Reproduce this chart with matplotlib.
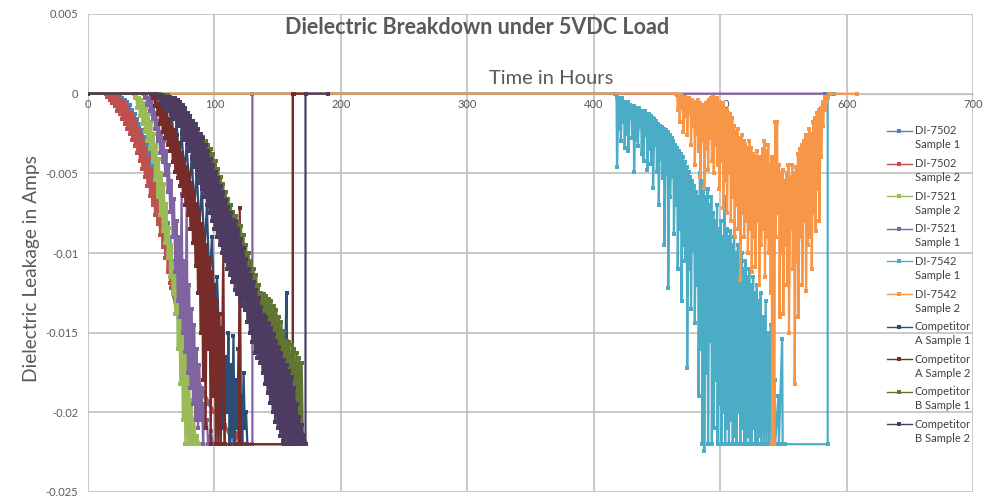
import numpy as np
import matplotlib
matplotlib.use("Agg")
import matplotlib.pyplot as plt
from matplotlib.lines import Line2D

plt.rcParams['font.family'] = ['Lato', 'DejaVu Sans']

# === data: hours and leakage in mA ===
di7502_s1_h = [0, 18, 19, 20, 21, 22, 23, 24, 25, 26, 27, 28, 29, 30, 31, 32, 33, 34, 35, 36, 37, 38, 39, 40, 41, 42, 43, 44,
               45, 46, 47, 48, 49, 50, 51, 52, 53, 54, 55, 56, 57, 58, 59, 60, 61, 62, 63, 64, 65, 66, 67, 68,
               72, 76, 80, 88, 95, 102, 108, 112, 115, 124]
di7502_s1_v = [0, 0, -0.1, -0.3, -0.1, -0.5, -0.1, -0.7, -0.2, -1.0, -0.3, -1.3, -0.4, -1.6, -0.5, -1.9, -0.7, -2.2, -1.0,
               -2.6, -1.3, -3.0, -1.6, -3.4, -1.9, -3.8, -2.3, -4.3, -2.7, -4.8, -3.1, -5.3, -3.6, -5.9, -4.1, -6.5, -4.8,
               -7.1, -5.5, -7.8, -6.1, -8.4, -6.8, -9.1, -7.4, -9.9, -8.1, -10.8, -9.0, -11.7, -10.5, -12.0,
               -13.8, -15.5, -17.0, -18.5, -19.5, -20.2, -20.8, -21.2, -22.0, -22.0]

di7502_s2_h = [0, 14, 15, 16, 17, 18, 19, 20, 21, 22, 23, 24, 25, 26, 27, 28, 29, 30, 31, 32, 33, 34, 35, 36, 37, 38, 39, 40,
               41, 42, 43, 44, 45, 46, 47, 48, 49, 50, 51, 52, 53, 54, 55, 56, 57, 58, 59, 60, 61, 62, 63, 64, 65, 66,
               72, 80, 90, 100, 108, 112, 114, 116, 118, 120, 123]
di7502_s2_v = [0, 0, -0.2, 0, -0.4, -0.1, -0.6, -0.1, -0.8, -0.2, -1.1, -0.3, -1.3, -0.4, -1.6, -0.5, -1.9, -0.6, -2.2, -0.9,
               -2.5, -1.2, -2.9, -1.5, -3.3, -1.8, -3.7, -2.2, -4.2, -2.6, -4.7, -3.0, -5.2, -3.5, -5.8, -4.0, -6.4, -4.8,
               -7.0, -5.5, -7.6, -6.1, -8.2, -6.8, -8.9, -7.3, -9.6, -7.9, -10.3, -8.6, -11.2, -9.8, -11.9, -12.2,
               -14.5, -16.5, -18.5, -20.0, -20.8, -21.5, -20.8, -22.0, -21.3, -22.0, -22.0]

di7521_s2_h = [0, 36, 37, 38, 39, 40, 41, 42, 43, 44, 45, 46, 47, 48, 49, 50, 51, 52, 53, 54, 55, 56, 57, 58, 59, 60, 61, 62, 63,
               64, 65, 66, 67, 68, 69, 70, 71, 72, 73, 74, 75, 76, 77, 78, 79, 80, 81, 82, 83, 84, 85, 86, 88, 96]
di7521_s2_v = [0, 0, -0.3, -0.1, -0.9, -0.3, -1.4, -0.4, -1.9, -0.6, -2.4, -0.9, -3.0, -1.3, -3.5, -1.8, -4.3, -2.5, -5.4, -3.2,
               -6.5, -4.1, -7.6, -5.0, -8.6, -5.7, -9.4, -6.9, -10.3, -8.4, -11.5, -9.5, -12.6, -10.6, -13.8, -11.3, -16.0,
               -12.9, -18.2, -14.0, -20.5, -15.1, -22.0, -16.2, -22.0, -17.6, -22.0, -19.2, -22.0, -20.4, -22.0, -21.5, -22.0, -22.0]

di7521_s1_h = [0, 44, 45, 46, 47, 48, 49, 50, 51, 52, 53, 54, 55, 56, 57, 58, 59, 60, 61, 62, 63, 64, 65, 66, 67, 68, 69, 70, 71,
               72, 73, 74, 75, 76, 77, 78, 79, 80, 81, 82, 83, 84, 85, 86, 87, 88, 89, 90, 91, 92, 93, 94, 95, 97, 99, 130, 130, 583]
di7521_s1_v = [0, 0, -0.3, -0.1, -0.7, -0.3, -1.1, -0.5, -1.6, -0.8, -2.2, -1.2, -3.0, -1.7, -3.7, -2.4, -4.3, -3.0, -5.1, -3.6,
               -6.2, -4.5, -7.4, -5.5, -9.0, -6.6, -11.2, -8.0, -13.0, -9.0, -14.0, -6.3, -15.0, -10.5, -16.2, -7.0, -17.5, -12.0,
               -18.5, -13.5, -19.5, -14.5, -20.5, -16.0, -21.0, -17.0, -20.5, -18.5, -22.0, -19.5, -21.0, -20.5, -22.0, -21.2,
               -22.0, -22.0, 0, 0]

di7542_s1_h = [0, 417,
               418, 418.4, 419.5, 419.9, 421, 421.4, 422.5, 422.9, 424, 424.4, 425.5, 425.9, 427, 427.4, 428.5, 428.9,
               430, 430.4, 431.5, 431.9, 433, 433.4, 434.5, 434.9, 436, 436.4, 437.5, 437.9, 439, 439.4, 440.5, 440.9,
               442, 442.4, 443.5, 443.9, 445, 445.4, 446.5, 446.9, 448, 448.4, 449.5, 449.9, 451, 451.4, 452.5, 452.9,
               454, 454.4, 455.5, 455.9, 457, 457.4, 458.5, 458.9, 460, 460.4, 461.5, 461.9, 463, 463.4, 464.5, 464.9,
               466, 466.4, 467.5, 467.9, 469, 469.4, 470.5, 470.9, 472, 472.4, 473.5, 473.9, 475, 475.4, 476.5, 476.9,
               478, 478.4, 479.5, 479.9, 481, 481.4, 482.5, 482.9, 484, 484.4, 485.5, 485.9, 487, 487.4, 488.5, 488.9,
               490, 490.4, 491.5, 491.9, 493, 493.4, 494.5, 494.9, 496, 496.4, 497.5, 497.9, 499, 499.4, 500.5, 500.9,
               502, 502.4, 503.5, 503.9, 505, 505.4, 506.5, 506.9, 508, 508.4, 509.5, 509.9, 511, 511.4, 512.5, 512.9,
               514, 514.4, 515.5, 515.9, 517, 517.4, 518.5, 518.9, 520, 520.4, 521.5, 521.9, 523, 523.4, 524.5, 524.9,
               526, 526.4, 527.5, 527.9, 529, 529.4, 530.5, 530.9, 532, 532.4, 534, 534.4, 536, 536.4, 538, 538.4,
               540, 540.4, 543, 543.4, 546, 546.4, 549, 549.4, 551, 585, 585, 590]
di7542_s1_v = [0, 0,
               -0.2, -4.6, -0.3, -2.2, -0.4, -3.0, -0.3, -1.8, -0.5, -3.4, -0.6, -2.5, -0.5, -3.6, -0.7, -1.5,
               -0.8, -2.8, -0.8, -4.9, -0.9, -2.9, -1.0, -3.3, -0.9, -2.1, -1.1, -3.8, -1.2, -4.2, -1.1, -2.6,
               -1.3, -4.8, -1.3, -3.5, -1.4, -4.4, -1.5, -5.9, -1.6, -3.2, -1.7, -4.9, -1.9, -7.0, -2.0, -4.1,
               -2.1, -5.3, -2.2, -9.5, -2.3, -5.0, -2.4, -12.2, -2.6, -6.5, -2.8, -5.2, -3.0, -8.8, -3.2, -7.0,
               -3.4, -11.0, -3.6, -8.5, -3.8, -13.0, -4.0, -9.5, -4.3, -10.5, -4.6, -17.2, -4.9, -11.0, -5.2, -13.5,
               -5.5, -9.8, -5.8, -14.4, -6.2, -12.0, -6.5, -19.0, -5.0, -16.0, -5.5, -22.0, -6.0, -22.4, -6.5, -17.5,
               -6.0, -22.0, -7.0, -15.5, -6.5, -22.0, -7.5, -21.0, -8.0, -18.0, -7.0, -22.0, -8.5, -19.5, -8.0, -22.0,
               -9.0, -20.0, -6.5, -22.0, -8.5, -21.0, -9.0, -22.0, -8.6, -20.5, -9.5, -22.0, -9.0, -21.5, -10.0, -22.0,
               -9.5, -20.0, -10.5, -22.0, -10.0, -21.0, -11.0, -22.0, -10.5, -22.0, -11.5, -21.5, -11.0, -22.0, -12.0, -22.0,
               -11.5, -21.0, -12.5, -22.0, -12.0, -22.0, -13.0, -21.5, -12.5, -22.0, -14.0, -22.0, -13.0, -22.0, -15.0, -22.0,
               -14.5, -22.0, -18.0, -22.0, -19.0, -22.0, -15.4, -22.0, -22.0, -22.0, 0, 0]

di7542_s2_h = [0, 465,
               466, 466.4, 467.5, 467.9, 469, 469.4, 470.5, 470.9, 472, 472.4, 473.5, 473.9, 475, 475.4, 476.5, 476.9,
               478, 478.4, 479.5, 479.9, 481, 481.4, 482.5, 482.9, 484, 484.4, 485.5, 485.9, 487, 487.4, 488.5, 488.9,
               490, 490.4, 491.5, 491.9, 493, 493.4, 494.5, 494.9, 496, 496.4, 497.5, 497.9, 499, 499.4, 500.5, 500.9,
               502, 502.4, 503.5, 503.9, 505, 505.4, 506.5, 506.9, 508, 508.4, 509.5, 509.9, 511, 511.4, 512.5, 512.9,
               514, 514.4, 515.5, 515.9, 517, 517.4, 518.5, 518.9, 520, 520.4, 521.5, 521.9, 523, 523.4, 524.5, 524.9,
               526, 526.4, 527.5, 527.9, 529, 529.4, 530.5, 530.9, 532, 532.4, 533.5, 533.9, 535, 535.4, 536.5, 536.9,
               538, 538.4, 539.5, 539.9, 540.7, 541.1, 541.5, 541.9, 542.3, 542.7, 543.5, 543.9, 545, 545.4, 546.5, 546.9,
               548, 548.4, 549.5, 549.9, 551, 551.4, 552.5, 552.9, 554, 554.4, 555.5, 555.9, 557, 557.4, 558.5, 558.9,
               560, 560.4, 561.5, 561.9, 563, 563.4, 564.5, 564.9, 566, 566.4, 567.5, 567.9, 569, 569.4, 570.5, 570.9,
               572, 572.4, 573.5, 573.9, 575, 575.4, 576.5, 576.9, 578, 578.4, 579.5, 579.9, 581, 581.4, 582.5, 582.9,
               585, 587, 608]
di7542_s2_v = [0, 0,
               -0.1, -1.0, -0.2, -1.8, -0.1, -0.9, -0.3, -2.4, -0.2, -1.4, -0.4, -2.6, -0.3, -1.2, -0.5, -3.2,
               -0.4, -2.0, -0.6, -4.5, -0.5, -2.5, -0.4, -3.6, -0.6, -5.2, -0.7, -3.0, -0.8, -5.9, -0.6, -3.5,
               -0.5, -4.8, -0.4, -2.8, -0.3, -4.2, -0.2, -5.0, -0.3, -3.2, -0.3, -4.5, -0.5, -6.0, -0.8, -4.2,
               -0.6, -7.2, -1.0, -5.5, -1.0, -7.5, -1.2, -5.0, -1.3, -8.0, -1.5, -6.5, -2.0, -9.0, -2.4, -7.0,
               -2.2, -8.5, -2.8, -11.7, -2.6, -7.5, -3.0, -9.0, -3.2, -8.0, -3.4, -10.0, -3.0, -8.5, -3.4, -11.2,
               -3.8, -9.0, -4.0, -10.9, -3.6, -8.0, -4.0, -12.0, -4.2, -9.5, -3.5, -8.5, -3.0, -11.5, -3.6, -9.0,
               -3.2, -10.0, -4.5, -12.5, -4.0, -22.0, -4.5, -22.0, -4.2, -22.0, -1.8, -9.0, -1.75, -7.5, -4.5, -14.0,
               -5.0, -10.0, -4.8, -13.8, -5.5, -9.5, -5.0, -12.0, -4.5, -15.0, -5.2, -8.5, -4.5, -11.0, -5.0, -18.2,
               -4.6, -10.5, -3.8, -14.0, -3.5, -9.0, -3.2, -12.0, -3.0, -8.0, -2.6, -12.4, -2.8, -9.5, -2.2, -9.0,
               -2.5, -11.0, -1.8, -7.5, -1.5, -8.6, -1.2, -6.0, -1.0, -8.0, -0.9, -4.0, -0.5, -2.0, -0.2, -1.0,
               -0.3, 0, 0]

comp_a1_h = [0, 53, 54, 55, 56, 58, 60, 62, 64, 66, 68, 70, 72, 74, 76, 78, 80, 82, 84, 86, 88, 90, 92, 94, 96, 98, 100, 102,
             104, 105, 106, 107, 108, 109, 110, 111, 112, 113, 114, 115, 116, 117, 118, 119, 120, 121, 122, 123, 124, 125,
             126, 155, 156, 157, 158, 162, 162, 163]
comp_a1_v = [0, 0, -0.3, -0.1, -0.9, -0.3, -1.6, -0.7, -2.4, -1.1, -3.2, -1.8, -4.2, -2.5, -5.0, -3.2, -6.0, -4.0, -7.2, -4.8,
             -8.5, -5.8, -10.0, -7.0, -12.0, -9.0, -14.0, -11.5, -16.0, -14.7, -21.0, -15.0, -22.0, -16.5, -20.0, -15.0,
             -22.0, -17.0, -21.5, -15.2, -22.0, -18.0, -21.0, -16.0, -22.0, -19.0, -22.0, -17.5, -21.0, -20.0, -22.0, -22.0,
             -16.0, -12.5, -22.0, -22.0, 0, 0]

comp_a2_h = [0, 50, 51, 52, 53, 54, 55, 56, 57, 58, 59, 60, 61, 62, 63, 64, 65, 66, 67, 68, 69, 70, 71, 72, 73, 74, 75, 76, 77,
             78, 79, 80, 81, 82, 83, 84, 85, 86, 87, 88, 89, 90, 91, 92, 93, 94, 95, 96, 97, 98, 99, 100, 101, 102, 103, 104,
             105, 107, 108, 119, 120, 121, 162, 162, 172]
comp_a2_v = [0, 0, -0.3, -0.1, -0.8, -0.2, -1.3, -0.3, -1.9, -0.6, -2.4, -0.9, -2.8, -1.3, -3.2, -1.6, -3.6, -2.0, -4.3, -2.3,
             -4.9, -2.6, -5.3, -3.1, -5.8, -3.7, -6.4, -4.1, -7.0, -4.6, -7.6, -5.0, -8.5, -5.6, -9.4, -6.2, -10.8, -6.9,
             -12.5, -7.4, -15.0, -8.2, -18.0, -8.8, -21.0, -9.5, -16.0, -10.3, -22.0, -11.2, -19.0, -12.0, -22.0, -13.0,
             -22.0, -13.8, -22.0, -10.0, -22.0, -22.0, -7.2, -22.0, -22.0, 0, 0]

comp_b1_h = [0, 55, 56, 57, 58, 59, 60, 61, 62, 63, 64, 65, 66, 67, 68, 69, 70, 71, 72, 73, 74, 75, 76, 77, 78, 79, 80, 81,
             82, 83, 84, 85, 86, 87, 88, 89, 90, 91, 92, 93, 94, 95, 96, 97, 98, 99, 100, 101, 102, 103, 104, 105, 106,
             107, 108, 109, 110, 111, 112, 113, 114, 115, 116, 117, 118, 119, 120, 121, 122, 123, 124, 125, 126, 127,
             128, 129, 130, 131, 132, 133, 134, 135, 136, 137, 138, 139, 140, 141, 142, 143, 144, 145, 146, 147, 148,
             149, 150, 151, 152, 153, 154, 155, 156, 157, 158, 159, 160, 161, 162, 163, 164, 165, 166, 167, 168, 169,
             170, 171]
comp_b1_v = [0, 0, -0.4, 0, -0.5, -0.1, -0.6, -0.1, -0.8, -0.1, -0.9, -0.2, -1.1, -0.3, -1.3, -0.4, -1.5, -0.5, -1.7, -0.7,
             -2.0, -0.8, -2.3, -1.0, -2.6, -1.2, -2.9, -1.5, -3.2, -1.7, -3.5, -2.0, -3.8, -2.2, -4.1, -2.5, -4.4, -2.7,
             -4.7, -3.0, -5.0, -3.2, -5.3, -3.5, -5.7, -3.8, -6.1, -4.2, -6.6, -4.7, -7.2, -5.2, -7.7, -5.7, -8.2, -6.2,
             -8.6, -6.6, -9.1, -7.0, -9.5, -7.4, -9.9, -7.7, -10.3, -8.0, -10.8, -8.3, -11.3, -8.9, -11.8, -9.5, -12.3,
             -10.0, -12.8, -10.5, -13.3, -11.0, -13.8, -11.4, -14.3, -12.0, -14.8, -12.5, -15.3, -12.6, -15.8, -12.7,
             -16.3, -12.9, -16.9, -13.0, -17.5, -13.3, -18.1, -13.6, -18.7, -14.0, -19.3, -14.3, -19.9, -14.9, -20.5,
             -15.5, -21.1, -15.6, -21.7, -15.8, -22.0, -16.0, -22.0, -16.3, -22.0, -16.6, -22.0, -16.9, -22.0, -22.0]

comp_b2_h = [0, 54, 55, 56, 57, 58, 59, 60, 61, 62, 63, 64, 65, 66, 67, 68, 69, 70, 71, 72, 73, 74, 75, 76, 77, 78, 79, 80,
             81, 82, 83, 84, 85, 86, 87, 88, 89, 90, 91, 92, 93, 94, 95, 96, 97, 98, 99, 100, 101, 102, 103, 104, 105,
             106, 107, 108, 109, 110, 111, 112, 113, 114, 115, 116, 117, 118, 119, 120, 121, 122, 123, 124, 125, 126,
             127, 128, 129, 130, 131, 132, 133, 134, 135, 136, 137, 138, 139, 140, 141, 142, 143, 144, 145, 146, 147,
             148, 149, 150, 151, 152, 153, 154, 155, 156, 157, 158, 159, 160, 161, 162, 163, 164, 165, 166, 167, 168,
             169, 170, 171, 172, 172, 190]
comp_b2_v = [0, 0, -0.1, -0.3, -0.1, -0.6, -0.1, -0.8, -0.2, -0.9, -0.2, -1.1, -0.2, -1.3, -0.3, -1.6, -0.3, -1.8, -0.4,
             -2.0, -0.5, -2.4, -0.7, -2.9, -0.9, -3.2, -1.2, -3.6, -1.4, -4.1, -1.7, -4.6, -1.9, -5.1, -2.2, -5.6, -2.5,
             -6.0, -2.8, -6.5, -3.2, -7.0, -3.6, -7.5, -4.1, -8.0, -4.5, -8.5, -4.9, -9.0, -5.3, -9.5, -5.8, -10.0, -6.2,
             -10.5, -6.7, -11.0, -7.1, -11.4, -7.5, -11.8, -7.9, -12.3, -8.0, -12.6, -8.5, -13.0, -9.1, -13.3, -9.7,
             -13.6, -10.4, -14.3, -11.0, -15.0, -11.4, -15.6, -11.8, -16.3, -12.3, -16.6, -12.8, -16.9, -13.4, -17.5,
             -13.9, -18.2, -14.0, -18.8, -14.4, -19.4, -14.7, -20.0, -15.1, -20.6, -15.5, -21.0, -15.9, -21.5, -16.3,
             -21.8, -16.7, -22.0, -17.0, -22.0, -17.4, -22.0, -17.8, -22.0, -18.5, -22.0, -19.5, -22.0, -20.3, -22.0,
             -20.8, -22.0, -21.4, -22.0, 0, 0]

series = [
    ('DI-7502\nSample 1', di7502_s1_h, di7502_s1_v, '#4F81BD'),
    ('DI-7502\nSample 2', di7502_s2_h, di7502_s2_v, '#C0504D'),
    ('DI-7521\nSample 2', di7521_s2_h, di7521_s2_v, '#9BBB59'),
    ('DI-7521\nSample 1', di7521_s1_h, di7521_s1_v, '#8064A2'),
    ('DI-7542\nSample 1', di7542_s1_h, di7542_s1_v, '#4BACC6'),
    ('DI-7542\nSample 2', di7542_s2_h, di7542_s2_v, '#F79646'),
    ('Competitor\nA Sample 1', comp_a1_h, comp_a1_v, '#2C4D75'),
    ('Competitor\nA Sample 2', comp_a2_h, comp_a2_v, '#772C2A'),
    ('Competitor\nB Sample 1', comp_b1_h, comp_b1_v, '#5F7530'),
    ('Competitor\nB Sample 2', comp_b2_h, comp_b2_v, '#4D3B62'),
]

gris = '#595959'
fig = plt.figure(figsize=(9.97, 5.0), dpi=100)
ax = fig.add_axes([0.0883, 0.016, 0.8877, 0.956])

for nome, h, v, cor in series:
    ax.plot(h, np.array(v) / 1000.0, color=cor, lw=1.6, marker='s', markersize=2.6,
            markeredgewidth=0, label=nome, zorder=3)

ax.set_xlim(0, 700)
ax.set_ylim(-0.025, 0.005)
ax.set_xticks(range(0, 701, 100))
yt = [0.005, 0, -0.005, -0.01, -0.015, -0.02, -0.025]
ax.set_yticks(yt)
ax.set_yticklabels(['0.005', '0', '-0.005', '-0.01', '-0.015', '-0.02', '-0.025'])
ax.grid(True, color='#BFBFBF', lw=1.2)
ax.set_axisbelow(True)
for s in ['top', 'right', 'left']:
    ax.spines[s].set_visible(False)
ax.spines['bottom'].set_position(('data', 0))
ax.spines['bottom'].set_color('#BFBFBF')
ax.spines['bottom'].set_zorder(1)
ax.tick_params(length=0, labelsize=8, labelcolor=gris)
ax.tick_params(axis='x', pad=4)
ax.tick_params(axis='y', pad=7)

fig.text(0.478, 0.944, 'Dielectric Breakdown under 5VDC Load', ha='center', va='center',
         fontsize=15.5, fontweight='bold', color=gris)
fig.text(0.553, 0.842, 'Time in Hours', ha='center', va='center', fontsize=14.5, color=gris)
fig.text(0.032, 0.462, 'Dielectric Leakage in Amps', ha='center', va='center', rotation=90,
         fontsize=13.8, color=gris)

# === legenda (handle alinhado com a primeira linha, como no Excel) ===
for i, (nome, h, v, cor) in enumerate(series):
    y = 1 - (131 + 32.6 * i) / 500
    fig.add_artist(Line2D([0.8897, 0.9147], [y, y], transform=fig.transFigure, color=cor, lw=1.0))
    fig.add_artist(Line2D([0.9022], [y], transform=fig.transFigure, color=cor, marker='s',
                          markersize=3, markeredgewidth=0))
    l1, l2 = nome.split('\n')
    fig.text(0.9177, y, l1, ha='left', va='center', fontsize=8, color='#404040')
    fig.text(0.9177, y - 14 / 500, l2, ha='left', va='center', fontsize=8, color='#404040')

fig.savefig('out.png', dpi=100)
